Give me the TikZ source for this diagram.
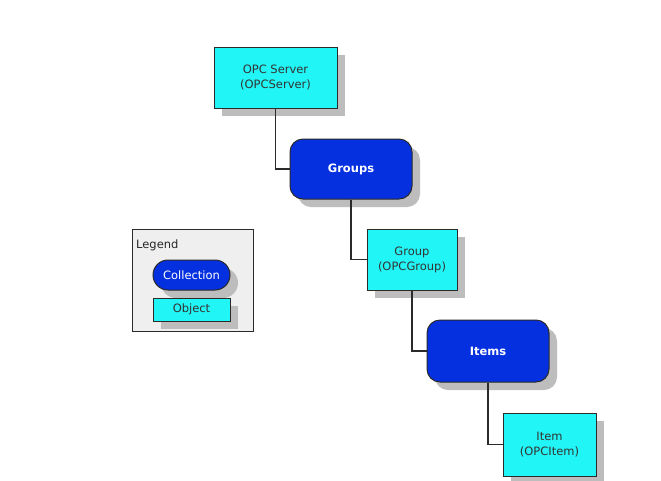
\documentclass[tikz,border=0pt]{standalone}
\usepackage{fontspec}
\setmainfont{DejaVu Sans}
\usetikzlibrary{shadows}
\definecolor{objcyan}{HTML}{22F5F5}
\definecolor{colblue}{HTML}{0530E0}
\definecolor{shadowgray}{HTML}{BDBDBD}
\definecolor{legendbg}{HTML}{EFEFEF}
\definecolor{edgecol}{HTML}{2A2A2A}
\tikzset{
  shad/.style={drop shadow={shadow xshift=8pt, shadow yshift=-8pt, fill=shadowgray, opacity=1}},
  objbox/.style={draw=edgecol, line width=1pt, fill=objcyan, shad, align=center, inner sep=0pt,
    font=\fontsize{11.5}{15}\selectfont, text=black!80},
  colbox/.style={draw=edgecol, line width=1pt, fill=colblue, shad, rounded corners=13pt, align=center, inner sep=0pt,
    font=\fontsize{11.5}{15}\selectfont\bfseries, text=white},
  conn/.style={draw=edgecol, line width=1.2pt}
}
\begin{document}
\begin{tikzpicture}[x=1pt,y=-1pt]
\useasboundingbox (0,0) rectangle (661,480);
\fill[white] (0,0) rectangle (661,480);
% legend
\node[draw=edgecol, line width=1pt, fill=legendbg, minimum width=121pt, minimum height=102pt, inner sep=0pt] (legend) at (192.5,280) {};
\node[anchor=west, font=\fontsize{11.5}{15}\selectfont, text=black!85, inner sep=0pt] (legendlbl) at (136,245) {Legend};
\node[colbox, rounded corners=15pt, minimum width=77pt, minimum height=30pt] (collection) at (191.5,275) {\mdseries Collection};
\node[objbox, minimum width=77pt, minimum height=23pt] (object) at (191.5,309.5) {Object};
% main tree
\node[objbox, minimum width=123pt, minimum height=61pt] (server) at (275.5,77.5) {OPC Server\\(OPCServer)};
\node[colbox, minimum width=122pt, minimum height=60pt] (groups) at (351,169) {Groups};
\node[objbox, minimum width=90pt, minimum height=61pt] (group) at (412,259.5) {Group\\(OPCGroup)};
\node[colbox, minimum width=122pt, minimum height=62pt] (items) at (488,351) {Items};
\node[objbox, minimum width=93pt, minimum height=63pt] (item) at (549.5,444.5) {Item\\(OPCItem)};
% connectors
\draw[conn] (server.south) |- (groups.west);
\draw[conn] (groups.south) |- (group.west);
\draw[conn] (group.south) |- (items.west);
\draw[conn] (items.south) |- (item.west);
\end{tikzpicture}
\end{document}
